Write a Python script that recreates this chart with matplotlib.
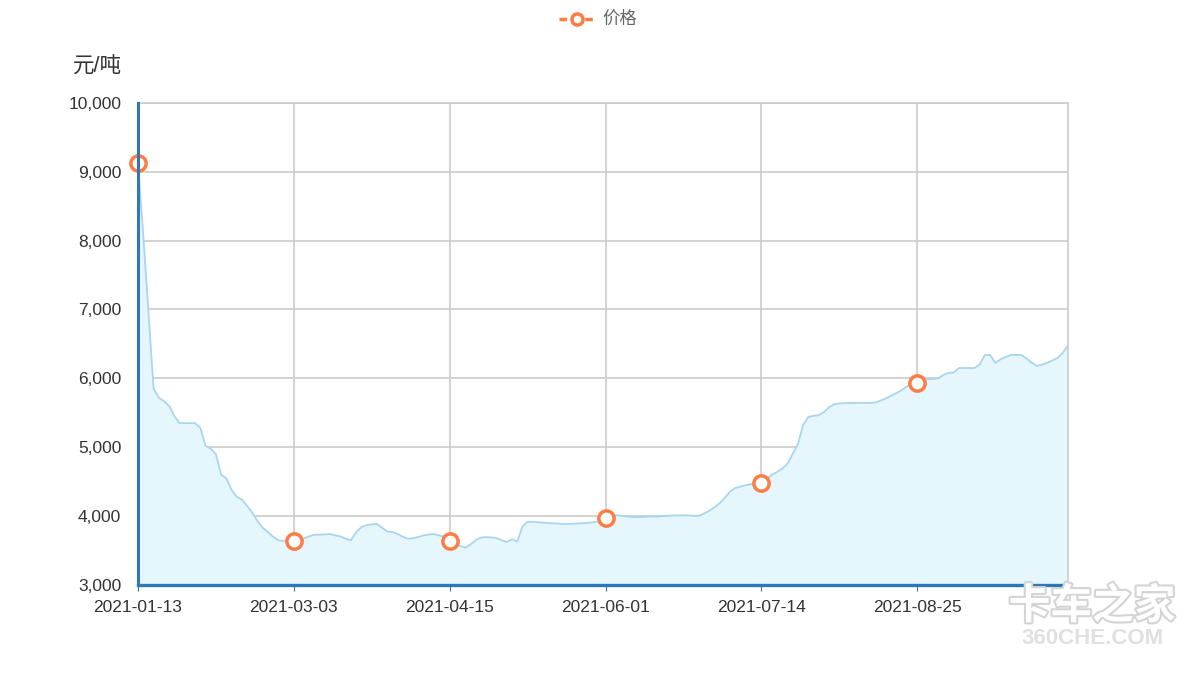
import matplotlib
matplotlib.use("Agg")
from matplotlib import pyplot as plt
from matplotlib import patheffects
from matplotlib.ticker import FuncFormatter
import numpy as np

plt.rcParams['font.family'] = ['Liberation Sans', 'Noto Sans CJK SC', 'DejaVu Sans']

# price per trading day (元/吨)
prices = [
    9130, 8090, 6980, 5850, 5720, 5670, 5600, 5450, 5350, 5350,
    5350, 5350, 5280, 5020, 4980, 4900, 4600, 4550, 4380, 4280,
    4240, 4150, 4050, 3930, 3830, 3770, 3700, 3650, 3640, 3650,
    3640, 3650, 3680, 3710, 3730, 3730, 3735, 3740, 3720, 3705,
    3670, 3650, 3770, 3840, 3870, 3880, 3886, 3830, 3775, 3770,
    3740, 3700, 3670, 3680, 3700, 3720, 3735, 3740, 3720, 3700,
    3640, 3600, 3570, 3540, 3590, 3650, 3690, 3695, 3690, 3680,
    3650, 3625, 3665, 3630, 3850, 3920, 3915, 3912, 3905, 3900,
    3895, 3890, 3886, 3888, 3890, 3895, 3900, 3905, 3915, 3930,
    3970, 4010, 4015, 4005, 3995, 3990, 3987, 3987, 3990, 3995,
    3995, 4000, 4005, 4010, 4010, 4012, 4010, 4005, 4005, 4040,
    4080, 4130, 4190, 4270, 4360, 4410, 4430, 4450, 4465, 4470,
    4480, 4540, 4600, 4640, 4690, 4760, 4900, 5040, 5320, 5440,
    5455, 5465, 5510, 5580, 5625, 5635, 5640, 5643, 5643, 5643,
    5643, 5643, 5650, 5680, 5710, 5750, 5785, 5830, 5885, 5910,
    5935, 5970, 5990, 5990, 6000, 6050, 6078, 6085, 6150, 6150,
    6150, 6150, 6200, 6340, 6340, 6223, 6275, 6310, 6340, 6340,
    6340, 6290, 6230, 6180, 6200, 6225, 6260, 6296, 6370, 6480,
]
tick_labels = ["2021-01-13", "2021-03-03", "2021-04-15", "2021-06-01", "2021-07-14", "2021-08-25"]
label_interval = 30

x = np.arange(len(prices))
ticks = np.arange(len(tick_labels)) * label_interval

fig = plt.figure(figsize=(12, 6.74), dpi=100)
ax = fig.add_axes([0.115, 0.132, 0.775, 0.7155])

ax.fill_between(x, prices, 3000, color="#e6f6fd", linewidth=0, zorder=1)
ax.plot(x, prices, color="#a9d5f1", linewidth=1.3, zorder=2)
ax.plot(ticks, [prices[t] for t in ticks], linestyle="none", marker="o",
        markersize=11, markerfacecolor="white", markeredgecolor="#fd7d45",
        markeredgewidth=2.5, zorder=4, clip_on=False)

ax.set_xlim(0, len(prices) - 1)
ax.set_ylim(3000, 10000)
ax.set_yticks(np.arange(3000, 10001, 1000))
ax.yaxis.set_major_formatter(FuncFormatter(lambda v, p: f"{int(v):,}"))
ax.set_xticks(ticks)
ax.set_xticklabels(tick_labels)

ax.grid(True, color="#cccccc", linewidth=1.2, zorder=0)
ax.set_axisbelow(True)
for side in ["top", "right"]:
    ax.spines[side].set_color("#cccccc")
    ax.spines[side].set_linewidth(1.2)
ax.spines["left"].set_color("#2f78b8")
ax.spines["left"].set_linewidth(2.2)
ax.spines["bottom"].set_color("#2f78b8")
ax.spines["bottom"].set_linewidth(2.4)
ax.spines["left"].set_zorder(5)
ax.spines["bottom"].set_zorder(5)

ax.tick_params(axis="y", length=0, pad=12, labelsize=12.5, labelcolor="#333333")
ax.tick_params(axis="x", length=4, color="#2f78b8", pad=7, labelsize=12.5, labelcolor="#333333")

fig.text(0.061, 0.9, "元/吨", fontsize=15.5, color="#333333", ha="left", va="center")

# legend
fig.lines.append(plt.Line2D([0.466, 0.495], [0.972, 0.972], transform=fig.transFigure,
                            color="#fd7d45", linewidth=2.5, linestyle=(0, (2.2, 1.5))))
fig.lines.append(plt.Line2D([0.4805], [0.972], transform=fig.transFigure, marker="o",
                            markersize=8, markerfacecolor="white", markeredgecolor="#fd7d45",
                            markeredgewidth=2.5))
fig.text(0.502, 0.972, "价格", fontsize=12.5, color="#666666", ha="left", va="center")

# watermark
wm = fig.text(0.91, 0.1, "卡车之家", fontsize=30, fontweight="bold", color="white",
              ha="center", va="center", family=["Noto Sans CJK SC"])
wm.set_path_effects([patheffects.withStroke(linewidth=3, foreground="#d4d4d4")])
fig.text(0.91, 0.053, "360CHE.COM", fontsize=16, fontweight="bold", color="#e0e0e0",
         ha="center", va="center")

fig.savefig("out.png", dpi=100)
